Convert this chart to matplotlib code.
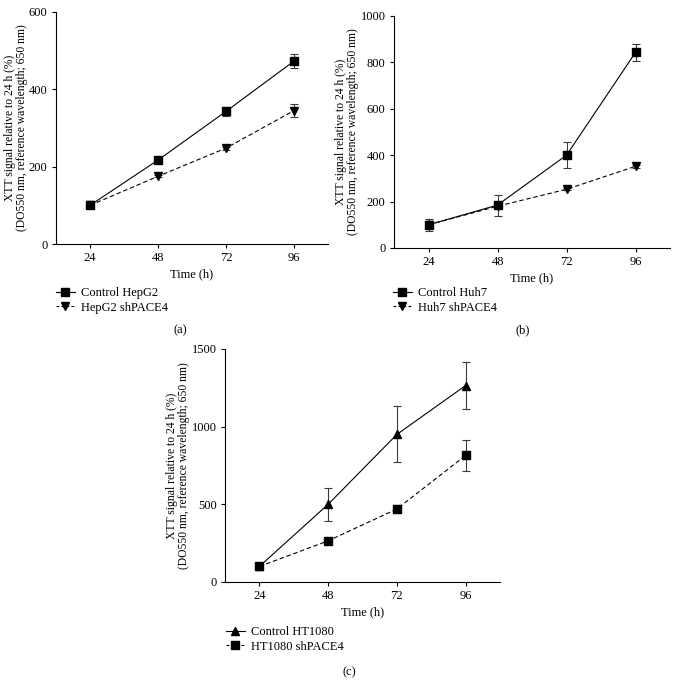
import matplotlib
matplotlib.use('Agg')
import matplotlib.pyplot as plt
from matplotlib.lines import Line2D

plt.rcParams['font.family'] = ['Liberation Serif', 'DejaVu Serif']
plt.rcParams['font.size'] = 9

# ── Data ───────────────────────────────────────────────────────────────────────
time_h = [24, 48, 72, 96]

hepg2_ctrl = [100, 217, 343, 473]
hepg2_ctrl_err = [6, 4, 12, 18]
hepg2_sh = [100, 175, 248, 345]
hepg2_sh_err = [4, 3, 4, 16]

huh7_ctrl = [100, 185, 400, 843]
huh7_ctrl_err = [25, 45, 55, 37]
huh7_sh = [100, 180, 253, 352]
huh7_sh_err = [5, 5, 5, 6]

ht1080_ctrl = [100, 500, 950, 1265]
ht1080_ctrl_err = [8, 108, 180, 150]
ht1080_sh = [100, 265, 470, 815]
ht1080_sh_err = [5, 8, 25, 100]

W, H = 673, 680
FS = 9
MS = 6
fig = plt.figure(figsize=(W / 100, H / 100), dpi=100)

DASH = (0, (4, 2.5))


def make_ax(left, top, right, bottom):
    return fig.add_axes([left / W, 1 - bottom / H, (right - left) / W, (bottom - top) / H])


def draw_panel(ax, ctrl, ctrl_err, sh, sh_err, ymax, yticks,
               ctrl_label, sh_label, ctrl_mk, sh_mk, tag, leg_xy, tag_xy):
    ekw = dict(ecolor='#3a3a3a', elinewidth=0.8, capsize=3, capthick=0.8)
    ax.errorbar(time_h, ctrl, yerr=ctrl_err, color='black', lw=0.8, ls='-',
                marker=ctrl_mk, ms=MS, **ekw)
    ax.errorbar(time_h, sh, yerr=sh_err, color='black', lw=0.8, ls=DASH,
                marker=sh_mk, ms=MS, **ekw)
    ax.set_xlim(12, 108)
    ax.set_ylim(0, ymax)
    ax.set_xticks(time_h)
    ax.set_yticks(yticks)
    ax.spines['top'].set_visible(False)
    ax.spines['right'].set_visible(False)
    for s in ('left', 'bottom'):
        ax.spines[s].set_linewidth(0.8)
    ax.tick_params(direction='out', length=3, width=0.8, labelsize=FS, pad=3)
    ax.set_xlabel('Time (h)', fontsize=FS, labelpad=3)
    ax.set_ylabel('XTT signal relative to 24 h (%)\n(DO550 nm, reference wavelength; 650 nm)',
                  fontsize=8.4, labelpad=1, linespacing=1.0)

    handles = [Line2D([], [], color='black', lw=0.8, ls='-', marker=ctrl_mk, ms=MS),
               Line2D([], [], color='black', lw=0.8, ls=(0, (2.5, 2)), marker=sh_mk, ms=MS)]
    ax.legend(handles, [ctrl_label, sh_label], loc='upper left',
              bbox_to_anchor=(leg_xy[0] / W, 1 - leg_xy[1] / H),
              bbox_transform=fig.transFigure, frameon=False, borderpad=0,
              borderaxespad=0, handlelength=1.5, handletextpad=0.5,
              labelspacing=0.2, fontsize=FS)
    fig.text(tag_xy[0] / W, 1 - tag_xy[1] / H, tag, ha='center', va='center', fontsize=FS)


ax_a = make_ax(56, 12, 328, 244)
draw_panel(ax_a, hepg2_ctrl, hepg2_ctrl_err, hepg2_sh, hepg2_sh_err, 600, [0, 200, 400, 600],
           'Control HepG2', 'HepG2 shPACE4', 's', 'v', '(a)', (56, 287), (180, 330))

ax_b = make_ax(394, 16, 670, 248)
draw_panel(ax_b, huh7_ctrl, huh7_ctrl_err, huh7_sh, huh7_sh_err, 1000,
           [0, 200, 400, 600, 800, 1000],
           'Control Huh7', 'Huh7 shPACE4', 's', 'v', '(b)', (393, 287), (523, 330))

ax_c = make_ax(225, 349, 500, 582)
draw_panel(ax_c, ht1080_ctrl, ht1080_ctrl_err, ht1080_sh, ht1080_sh_err, 1500,
           [0, 500, 1000, 1500],
           'Control HT1080', 'HT1080 shPACE4', '^', 's', '(c)', (226, 626), (349, 672))

fig.savefig('out.png', dpi=100)
